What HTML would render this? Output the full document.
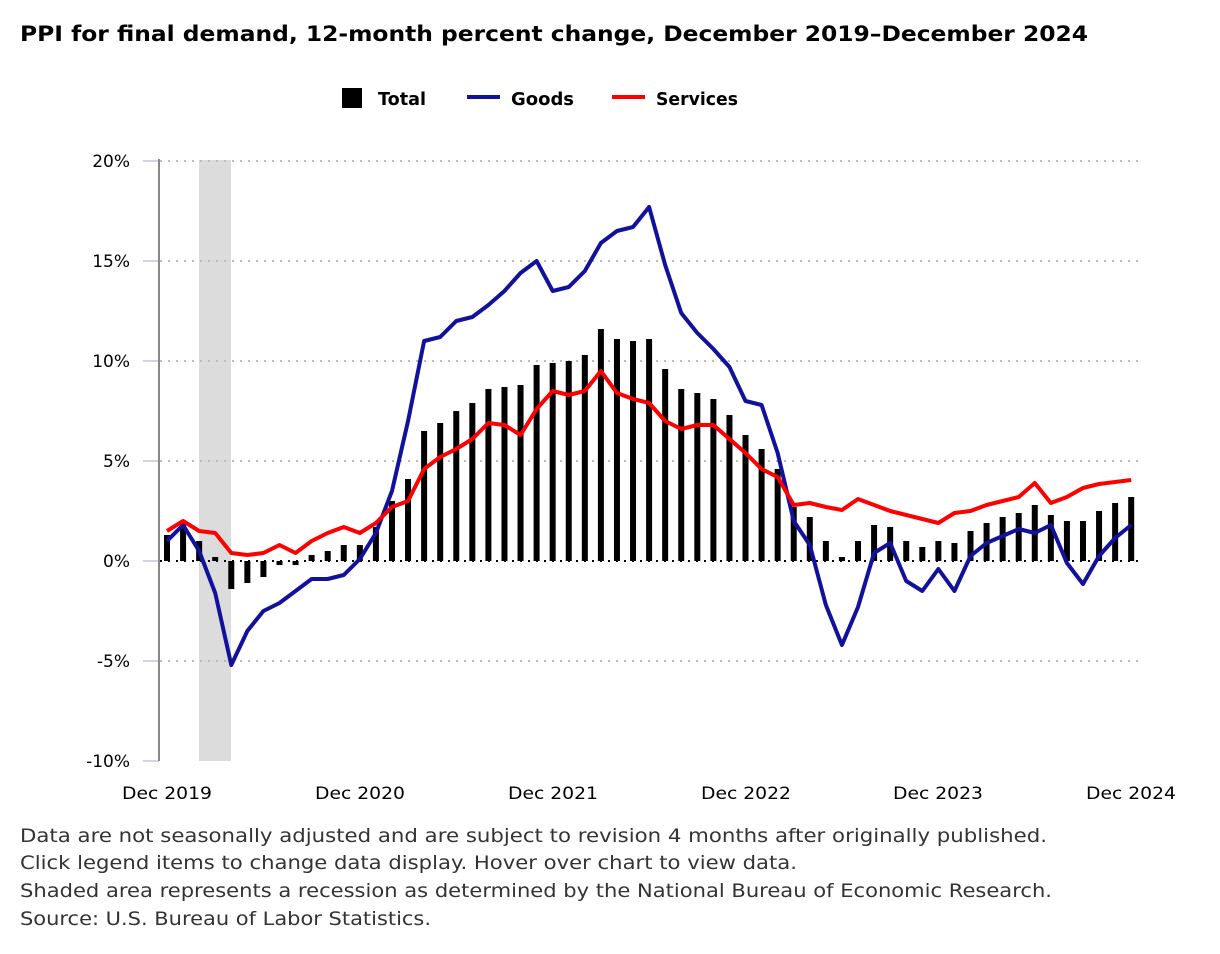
<!DOCTYPE html>
<html><head><meta charset="utf-8"><style>
body{margin:0;background:#fff;width:1220px;height:950px;overflow:hidden;font-family:"DejaVu Sans",sans-serif}
</style></head><body>
<svg id="s" width="1220" height="950" xmlns="http://www.w3.org/2000/svg" font-family="DejaVu Sans, sans-serif">
<text x="20" y="41" font-size="21" font-weight="bold" fill="#000" textLength="1068" lengthAdjust="spacingAndGlyphs">PPI for final demand, 12-month percent change, December 2019–December 2024</text>
<rect x="342" y="88" width="20" height="20" fill="#000"/>
<text x="378" y="105" font-size="18" font-weight="bold" textLength="48" lengthAdjust="spacingAndGlyphs">Total</text>
<line x1="467" y1="97" x2="500" y2="97" stroke="#11119c" stroke-width="4"/>
<text x="511" y="105" font-size="18" font-weight="bold" textLength="63" lengthAdjust="spacingAndGlyphs">Goods</text>
<line x1="612" y1="97" x2="645" y2="97" stroke="#f00" stroke-width="4"/>
<text x="656" y="105" font-size="18" font-weight="bold" textLength="82" lengthAdjust="spacingAndGlyphs">Services</text>
<rect x="199" y="160" width="32" height="601" fill="#dcdcdc"/>
<g id="grid"></g>
<line x1="159" y1="159" x2="159" y2="761" stroke="#888" stroke-width="2"/>
<g id="bars"></g>
<line x1="160" y1="561" x2="1140" y2="561" stroke="#000" stroke-width="2" stroke-dasharray="2,6"/>
<polyline id="goods" fill="none" stroke="#11119c" stroke-width="4" stroke-linejoin="round"/>
<polyline id="serv" fill="none" stroke="#f00" stroke-width="4" stroke-linejoin="round"/>
<g font-size="17" text-anchor="middle" fill="#000">
<text x="167" y="799" textLength="90" lengthAdjust="spacingAndGlyphs">Dec 2019</text><text x="360" y="799" textLength="90" lengthAdjust="spacingAndGlyphs">Dec 2020</text><text x="553" y="799" textLength="90" lengthAdjust="spacingAndGlyphs">Dec 2021</text>
<text x="746" y="799" textLength="90" lengthAdjust="spacingAndGlyphs">Dec 2022</text><text x="938" y="799" textLength="90" lengthAdjust="spacingAndGlyphs">Dec 2023</text><text x="1131" y="799" textLength="90" lengthAdjust="spacingAndGlyphs">Dec 2024</text>
</g>
<g font-size="19" fill="#333">
<text x="20" y="842" textLength="1027" lengthAdjust="spacingAndGlyphs">Data are not seasonally adjusted and are subject to revision 4 months after originally published.</text>
<text x="20" y="869" textLength="777" lengthAdjust="spacingAndGlyphs">Click legend items to change data display. Hover over chart to view data.</text>
<text x="20" y="897" textLength="1032" lengthAdjust="spacingAndGlyphs">Shaded area represents a recession as determined by the National Bureau of Economic Research.</text>
<text x="20" y="925" textLength="411" lengthAdjust="spacingAndGlyphs">Source: U.S. Bureau of Labor Statistics.</text>
</g>
</svg>
<script>
var T=[1.3,1.9,1.0,0.2,-1.4,-1.1,-0.8,-0.2,-0.2,0.3,0.5,0.8,0.8,1.7,3.0,4.1,6.5,6.9,7.5,7.9,8.6,8.7,8.8,9.8,9.9,10.0,10.3,11.6,11.1,11.0,11.1,9.6,8.6,8.4,8.1,7.3,6.3,5.6,4.6,2.7,2.2,1.0,0.2,1.0,1.8,1.7,1.0,0.7,1.0,0.9,1.5,1.9,2.2,2.4,2.8,2.3,2.0,2.0,2.5,2.9,3.2];
var G=[1.0,1.8,0.5,-1.6,-5.2,-3.5,-2.5,-2.1,-1.5,-0.9,-0.9,-0.7,0.1,1.4,3.5,7.0,11.0,11.2,12.0,12.2,12.8,13.5,14.4,15.0,13.5,13.7,14.5,15.9,16.5,16.7,17.7,14.8,12.4,11.4,10.6,9.7,8.0,7.8,5.4,2.0,0.8,-2.2,-4.2,-2.3,0.4,0.9,-1.0,-1.5,-0.4,-1.5,0.25,0.9,1.25,1.6,1.4,1.8,-0.1,-1.15,0.25,1.15,1.8];
var S=[1.5,2.0,1.5,1.4,0.4,0.3,0.4,0.8,0.4,1.0,1.4,1.7,1.4,1.9,2.7,3.0,4.6,5.2,5.6,6.1,6.9,6.8,6.3,7.6,8.5,8.3,8.5,9.5,8.4,8.1,7.9,7.0,6.6,6.8,6.8,6.1,5.4,4.6,4.2,2.8,2.9,2.7,2.55,3.1,2.8,2.5,2.3,2.1,1.9,2.4,2.5,2.8,3.0,3.2,3.9,2.9,3.2,3.65,3.85,3.95,4.05];
var NS="http://www.w3.org/2000/svg";
function X(i){return 167+i*16.07}function Y(v){return 561-v*20}
var grid=document.getElementById('grid');
var labs=['20%','15%','10%','5%','0%','-5%','-10%'];
for(var k=0;k<7;k++){var y=161+k*100;
 if(k!=4&&k!=6){var l=document.createElementNS(NS,'line');l.setAttribute('x1',160);l.setAttribute('x2',1140);l.setAttribute('y1',y);l.setAttribute('y2',y);l.setAttribute('stroke','#bbb');l.setAttribute('stroke-width',2);l.setAttribute('stroke-dasharray','2,6');grid.appendChild(l);}
 var t=document.createElementNS(NS,'line');t.setAttribute('x1',143);t.setAttribute('x2',159);t.setAttribute('y1',y);t.setAttribute('y2',y);t.setAttribute('stroke','#aac');t.setAttribute('stroke-width',1);grid.appendChild(t);
 var tx=document.createElementNS(NS,'text');tx.setAttribute('x',130);tx.setAttribute('y',y+6);tx.setAttribute('text-anchor','end');tx.setAttribute('font-size','17');tx.textContent=labs[k];grid.appendChild(tx);}
var b=document.getElementById('bars');
T.forEach(function(v,i){var r=document.createElementNS(NS,'rect');r.setAttribute('x',X(i)-3);r.setAttribute('width',6);r.setAttribute('y',Math.min(Y(v),561));r.setAttribute('height',Math.abs(v*20));r.setAttribute('fill','#000');b.appendChild(r);});
document.getElementById('goods').setAttribute('points',G.map(function(v,i){return X(i)+','+Y(v)}).join(' '));
document.getElementById('serv').setAttribute('points',S.map(function(v,i){return X(i)+','+Y(v)}).join(' '));
</script>
</body></html>
